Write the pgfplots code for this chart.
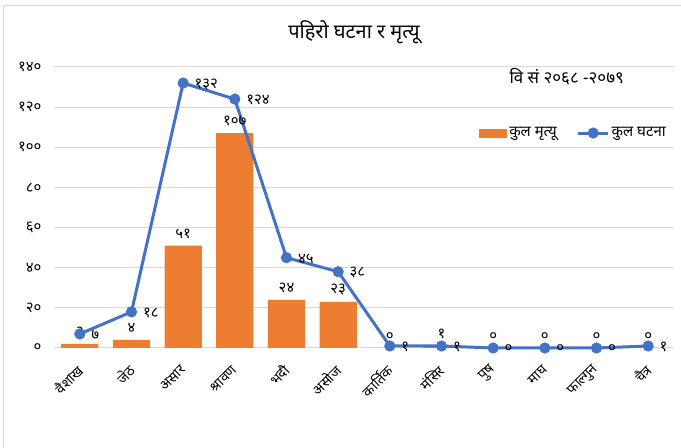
\documentclass[border=0pt]{standalone}
\usepackage{fontspec}
\setmainfont{Noto Sans}[Script=Devanagari]
\usepackage{pgfplots}
\usepackage{pgfplotstable}
\pgfplotsset{compat=1.18}
\definecolor{barorange}{HTML}{ED7D31}
\definecolor{lineblue}{HTML}{4472C4}
\definecolor{gridgray}{HTML}{D9D9D9}

\pgfplotstableread{
x y lbl
0 2 २
1 4 ४
2 51 ५१
3 107 १०७
4 24 २४
5 23 २३
6 0 ०
7 1 १
8 0 ०
9 0 ०
10 0 ०
11 0 ०
}\deaths

\pgfplotstableread{
x y lbl
0 7 ७
1 18 १८
2 132 १३२
3 124 १२४
4 45 ४५
5 38 ३८
6 1 १
7 1 १
8 0 ०
9 0 ०
10 0 ०
11 1 १
}\events

\begin{document}
\begin{tikzpicture}
\useasboundingbox (0,0) rectangle (681bp,448bp);
\draw[gridgray, line width=1bp] (3.5bp,0) -- (3.5bp,442.5bp) -- (681bp,442.5bp);
\node[font=\fontsize{20}{22}\selectfont] at (354bp,416bp) {पहिरो घटना र मृत्यू};
\begin{axis}[
  at={(54bp,100bp)}, anchor=south west,
  scale only axis, width=620bp, height=281bp,
  xmin=-0.5, xmax=11.5, ymin=0, ymax=140,
  axis lines=left,
  x axis line style={draw=gridgray, line width=1bp, -},
  y axis line style={draw=none},
  major tick length=0pt,
  ymajorgrids, grid style={draw=gridgray, line width=1bp},
  ytick={0,20,40,60,80,100,120,140},
  yticklabels={०,२०,४०,६०,८०,१००,१२०,१४०},
  yticklabel style={font=\fontsize{15}{17}\selectfont, anchor=east, xshift=-9bp},
  xtick={0,...,11},
  xticklabels={वैशाख,जेठ,असार,श्रावण,भदौ,असोज,कार्तिक,मंसिर,पुष,माघ,फाल्गुन,चैत्र},
  xticklabel style={font=\fontsize{14}{16}\selectfont, yshift=-19bp, xshift=1bp, rotate=45, anchor=east, inner sep=1bp},
  legend columns=2,
  legend style={draw=none, fill=none, at={(0.995,0.765)}, anchor=east,
    font=\fontsize{15}{17}\selectfont, /tikz/every even column/.append style={column sep=18bp}},
  legend cell align=left,
  clip=false,
]
\addplot[ybar, bar width=0.72, fill=barorange, draw=none,
  point meta=explicit symbolic,
  nodes near coords, nodes near coords style={font=\fontsize{15}{17}\selectfont, text=black, anchor=south, yshift=6bp, inner sep=1bp},
  legend image code/.code={\fill[barorange] (0bp,-4.5bp) rectangle (28bp,4.5bp);}]
  table[x=x, y=y, meta=lbl] {\deaths};
\addlegendentry{कुल मृत्यू}
\addplot[color=lineblue, line width=3bp, mark=*, mark size=4bp,
  mark options={fill=lineblue, draw=lineblue},
  point meta=explicit symbolic,
  nodes near coords, nodes near coords style={font=\fontsize{15}{17}\selectfont, text=black, anchor=west, xshift=9bp, yshift=-1bp, inner sep=1bp},
  legend image code/.code={\draw[lineblue, line width=3bp] (0bp,0bp) -- (30bp,0bp); \fill[lineblue] (15bp,0bp) circle (4bp);}]
  table[x=x, y=y, meta=lbl] {\events};
\addlegendentry{कुल घटना}
\node[font=\fontsize{17}{19}\selectfont] at (rel axis cs:0.827,0.964) {वि सं २०६८ -२०७९};
\end{axis}
\end{tikzpicture}
\end{document}
